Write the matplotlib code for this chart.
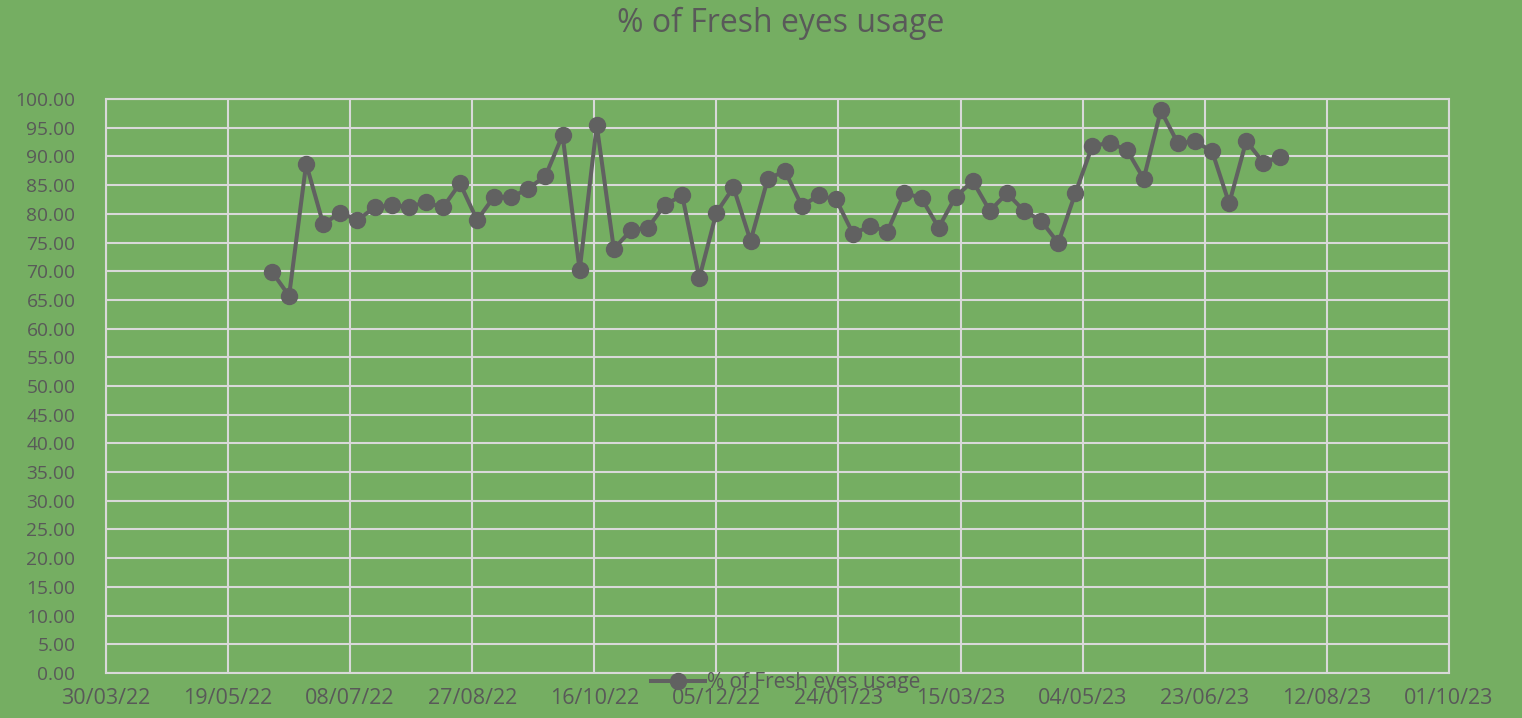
import datetime as dt

import numpy as np
import pandas as pd
import matplotlib
matplotlib.use('Agg')
import matplotlib.pyplot as plt
import matplotlib.dates as mdates


# weekly readings (Mondays) from 06/06/22
first_week = '2022-06-06'
n_weeks = 60
usage = [69.9, 65.7, 88.7, 78.2, 80.2, 78.9, 81.1, 81.5, 81.2, 82.0,
         81.1, 85.3, 78.9, 83.0, 82.9, 84.4, 86.6, 93.7, 70.2, 95.4,
         73.9, 77.1, 77.6, 81.6, 83.2, 68.8, 80.2, 84.6, 75.3, 86.0,
         87.5, 81.4, 83.2, 82.5, 76.5, 77.9, 76.9, 83.7, 82.7, 77.6,
         83.0, 85.7, 80.5, 83.6, 80.5, 78.8, 74.9, 83.6, 91.9, 92.3,
         91.2, 86.1, 98.0, 92.3, 92.6, 90.9, 81.8, 92.7, 88.9, 89.9]
weeks = pd.date_range(first_week, periods=n_weeks, freq='7D')

x_start = dt.date(2022, 3, 30)
x_end = dt.date(2023, 10, 1)
x_step = 50
y_ticks = np.arange(0, 101, 5)

bg = '#75AE62'
txt = '#595959'
line_col = '#616161'
grid_col = '#D9D9D9'

plt.rcParams['font.family'] = ['Open Sans', 'DejaVu Sans']

fig = plt.figure(figsize=(15.22, 7.18), dpi=100, facecolor=bg)
ax = fig.add_axes([0.0696, 0.0627, 0.8824, 0.7994], facecolor=bg)

ax.plot(weeks, usage, color=line_col, lw=2.9, marker='o', ms=11.5,
        label='% of Fresh eyes usage', zorder=3)

ax.set_xlim(x_start, x_end)
ax.set_ylim(0, 100)
xt = [x_start + dt.timedelta(days=d) for d in range(0, (x_end - x_start).days + 1, x_step)]
ax.set_xticks(xt)
ax.xaxis.set_major_formatter(mdates.DateFormatter('%d/%m/%y'))
ax.set_yticks(y_ticks)
ax.set_yticklabels(['%.2f' % v for v in y_ticks])

ax.grid(True, color=grid_col, lw=1.5)
ax.set_axisbelow(True)
for s in ax.spines.values():
    s.set_color(grid_col)
    s.set_linewidth(1.5)

ax.tick_params(length=0, colors=txt)
ax.tick_params(axis='y', pad=22, labelsize=13.8)
ax.tick_params(axis='x', pad=11, labelsize=15.5)

fig.text(0.513, 0.968, '% of Fresh eyes usage', ha='center', va='center',
         fontsize=23, color=txt)

leg = fig.legend(loc='center', bbox_to_anchor=(0.516, 0.049), frameon=False,
                 fontsize=15, handlelength=2.6, handletextpad=0.1,
                 borderpad=0)
for t in leg.get_texts():
    t.set_color(txt)

fig.savefig('out.png', dpi=100, facecolor=bg)
